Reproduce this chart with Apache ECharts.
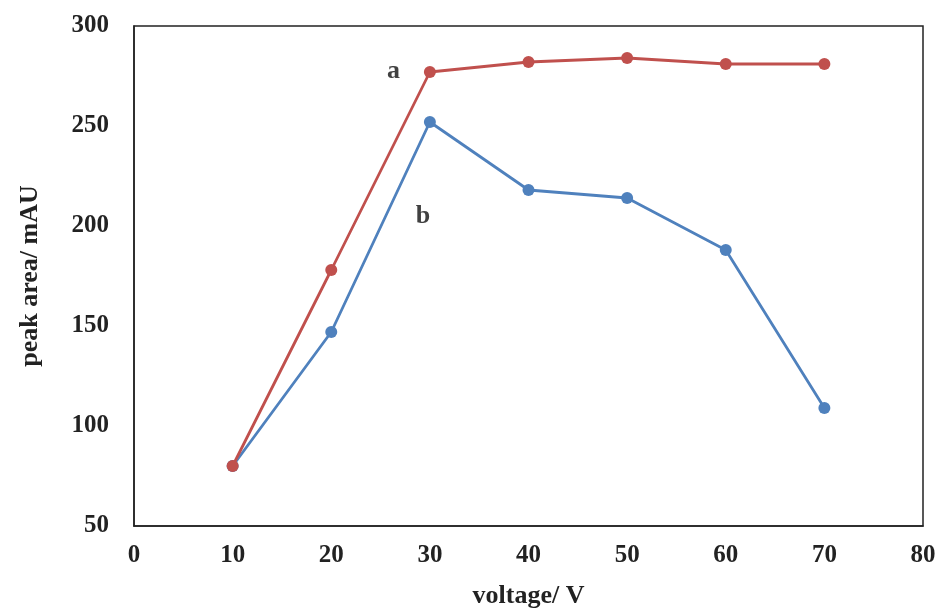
<!DOCTYPE html>
<html>
<head>
<meta charset="utf-8">
<script src="https://cdn.jsdelivr.net/npm/echarts@6/dist/echarts.min.js"></script>
<style>
  html, body { margin: 0; padding: 0; background: #fff; }
  #main { width: 942px; height: 614px; }
</style>
</head>
<body>
<div id="main"></div>
<script>
// data
let voltage = [10, 20, 30, 40, 50, 60, 70];
let seriesA = [80, 178, 277, 282, 284, 281, 281];
let seriesB = [80, 147, 252, 218, 214, 188, 109];
// curve labels: [x, y, text]
let curveLabels = [[26.3, 277.5, 'a'], [29.3, 205, 'b']];

let font = '"Liberation Serif", "Times New Roman", serif';

let myChart = echarts.init(document.getElementById('main'));

function pairs(xs, ys) {
    return xs.map(function (x, i) { return [x, ys[i]]; });
}

myChart.setOption({
    backgroundColor: '#fff',
    animation: false,
    grid: {
        left: 134, top: 26, right: 19, bottom: 86,
        show: true, borderColor: '#222', borderWidth: 1.5
    },
    xAxis: {
        type: 'value',
        min: 0, max: 80, interval: 10,
        name: 'voltage/ V',
        nameLocation: 'middle',
        nameGap: 57,
        nameTextStyle: { fontFamily: font, fontWeight: 'bold', fontSize: 26, color: '#222' },
        axisLine: { show: true, lineStyle: { color: '#222', width: 1.5 } },
        axisTick: { show: false },
        splitLine: { show: false },
        axisLabel: { fontFamily: font, fontWeight: 'bold', fontSize: 25, color: '#222', margin: 17 }
    },
    yAxis: {
        type: 'value',
        min: 50, max: 300, interval: 50,
        name: 'peak area/ mAU',
        nameLocation: 'middle',
        nameGap: 91,
        nameTextStyle: { fontFamily: font, fontWeight: 'bold', fontSize: 26, color: '#222' },
        axisLine: { show: true, lineStyle: { color: '#222', width: 1.5 } },
        axisTick: { show: false },
        splitLine: { show: false },
        axisLabel: { fontFamily: font, fontWeight: 'bold', fontSize: 25, color: '#222', margin: 25 }
    },
    series: [
        {
            name: 'a',
            type: 'line',
            data: pairs(voltage, seriesA),
            symbol: 'circle',
            symbolSize: 12,
            color: '#C0504D',
            lineStyle: { width: 2.8, color: '#C0504D' },
            itemStyle: { color: '#C0504D' },
            z: 3
        },
        {
            name: 'b',
            type: 'line',
            data: pairs(voltage, seriesB),
            symbol: 'circle',
            symbolSize: 12,
            color: '#4F81BD',
            lineStyle: { width: 2.8, color: '#4F81BD' },
            itemStyle: { color: '#4F81BD' },
            z: 2
        },
        {
            type: 'scatter',
            data: curveLabels.map(function (c) { return { value: [c[0], c[1]], name: c[2] }; }),
            symbolSize: 0,
            silent: true,
            label: {
                show: true,
                position: 'inside',
                formatter: '{b}',
                fontFamily: font, fontWeight: 'bold', fontSize: 26, color: '#111'
            }
        }
    ]
});
</script>
</body>
</html>
